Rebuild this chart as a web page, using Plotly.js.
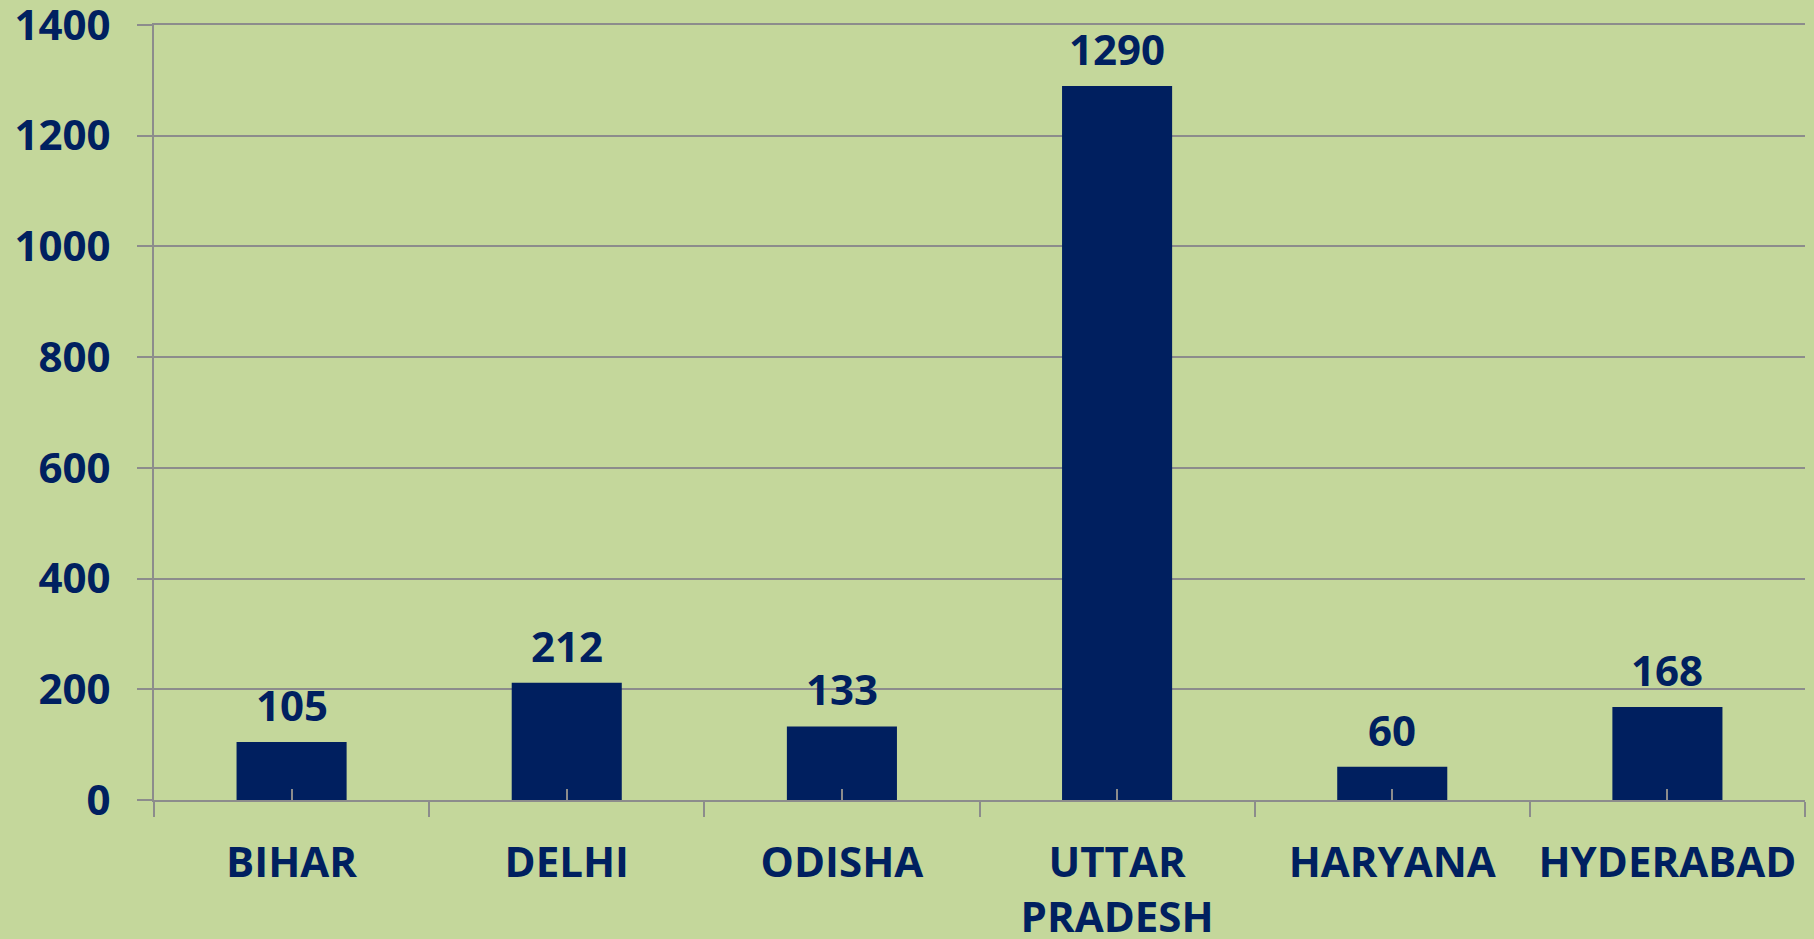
<!DOCTYPE html>
<html>
<head>
<meta charset="utf-8">
<script src="https://cdn.plot.ly/plotly-3.0.1.min.js"></script>
<style>
  html, body { margin: 0; padding: 0; background: #C4D79B; }
  #chart { width: 1814px; height: 939px; }
</style>
</head>
<body>
<div id="chart"></div>
<script>
const categories = ["BIHAR", "DELHI", "ODISHA", "UTTAR PRADESH", "HARYANA", "HYDERABAD"];
const tickLabels = ["BIHAR", "DELHI", "ODISHA", "UTTAR<br>PRADESH", "HARYANA", "HYDERABAD"];
const values = [105, 212, 133, 1290, 60, 168];
const yTicks = [0, 200, 400, 600, 800, 1000, 1200, 1400];

const navy = '#002060';
const grey = '#8c8c8c';
const font = { family: 'Open Sans, sans-serif', size: 42, color: navy, weight: 'bold' };

const traces = [
  {
    type: 'bar',
    x: categories,
    y: values,
    marker: { color: '#001F5F' },
    hoverinfo: 'x+y',
    xaxis: 'x',
    yaxis: 'y'
  },
  {
    type: 'scatter',
    mode: 'none',
    x: categories,
    y: values,
    xaxis: 'x2',
    yaxis: 'y',
    hoverinfo: 'skip',
    showlegend: false
  }
];

const annotations = categories.map((c, i) => ({
  x: c,
  y: values[i],
  xref: 'x',
  yref: 'y',
  text: String(values[i]),
  showarrow: false,
  yanchor: 'bottom',
  yshift: 7,
  font: font
}));

const layout = {
  width: 1814,
  height: 939,
  paper_bgcolor: '#C4D79B',
  plot_bgcolor: '#C4D79B',
  margin: { l: 154, r: 9, t: 25, b: 139 },
  showlegend: false,
  bargap: 0.6,
  font: font,
  xaxis: {
    type: 'category',
    categoryarray: categories,
    range: [-0.5, 5.5],
    tickvals: categories,
    ticktext: tickLabels,
    tickson: 'boundaries',
    ticks: 'outside',
    ticklen: 15,
    tickwidth: 2,
    tickcolor: grey,
    showline: true,
    mirror: true,
    linecolor: grey,
    linewidth: 2,
    showgrid: false,
    zeroline: false,
    tickfont: font,
    ticklabelstandoff: 25
  },
  xaxis2: {
    type: 'category',
    categoryarray: categories,
    range: [-0.5, 5.5],
    overlaying: 'x',
    anchor: 'y',
    side: 'bottom',
    ticks: 'inside',
    ticklen: 11,
    tickwidth: 2,
    tickcolor: grey,
    showticklabels: false,
    showline: false,
    showgrid: false,
    zeroline: false
  },
  yaxis: {
    range: [0, 1400],
    tickvals: yTicks,
    ticktext: yTicks.map(String),
    ticks: 'outside',
    ticklen: 15,
    tickwidth: 2,
    tickcolor: grey,
    showline: true,
    linecolor: grey,
    linewidth: 2,
    showgrid: true,
    gridcolor: grey,
    gridwidth: 2,
    zeroline: false,
    tickfont: font,
    ticklabelstandoff: 18,
    ticklabeloverflow: 'allow'
  },
  annotations: annotations
};

Plotly.newPlot('chart', traces, layout, { displayModeBar: false });
</script>
</body>
</html>
